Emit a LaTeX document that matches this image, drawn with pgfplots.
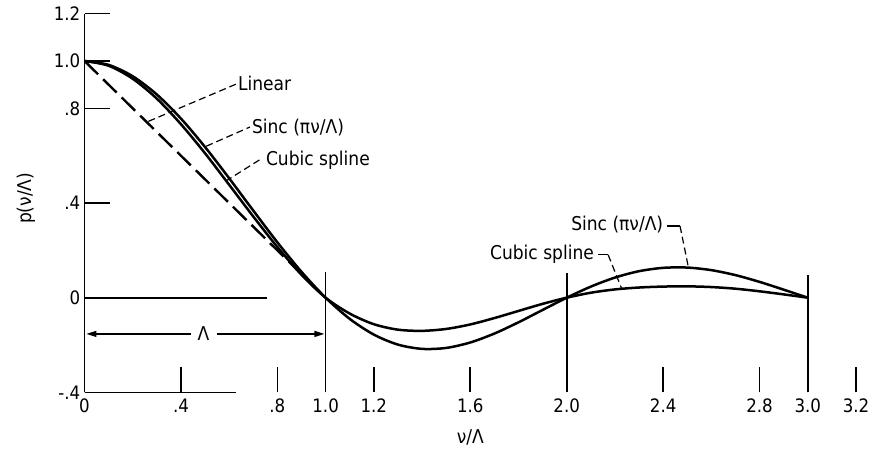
\documentclass[border=0pt]{standalone}
\usepackage{pgfplots}
\pgfplotsset{compat=1.18}
\usepackage{fontspec}
\setmainfont{DejaVu Sans Condensed}
\usetikzlibrary{arrows.meta}

\pgfplotstableread{
x y
0.0 1.0000
0.1 0.9836
0.2 0.9355
0.3 0.8584
0.4 0.7568
0.5 0.6366
0.6 0.5046
0.7 0.3679
0.8 0.2339
0.9 0.1093
1.0 0.0000
1.1 -0.0894
1.2 -0.1559
1.3 -0.1981
1.4 -0.2162
1.5 -0.2122
1.6 -0.1892
1.7 -0.1515
1.8 -0.1039
1.9 -0.0518
2.0 0.0000
2.1 0.0468
2.2 0.0850
2.3 0.1120
2.4 0.1261
2.5 0.1273
2.6 0.1164
2.7 0.0954
2.8 0.0668
2.9 0.0339
3.0 0.0000
}\sinctab

\pgfplotstableread{
x y
0.0 1.000
0.1 0.980
0.2 0.925
0.3 0.841
0.4 0.733
0.5 0.610
0.6 0.477
0.7 0.343
0.8 0.214
0.9 0.097
1.0 0.000
1.1 -0.067
1.2 -0.112
1.3 -0.135
1.4 -0.140
1.5 -0.132
1.6 -0.113
1.7 -0.086
1.8 -0.056
1.9 -0.026
2.0 0.000
2.1 0.021
2.2 0.035
2.3 0.043
2.4 0.047
2.5 0.048
2.6 0.045
2.7 0.038
2.8 0.027
2.9 0.014
3.0 0.000
}\splinetab

\begin{document}
\begin{tikzpicture}
\begin{axis}[
  x=241.1pt, y=236.7pt,
  xmin=0, xmax=3.2, ymin=-0.4, ymax=1.2,
  axis lines*=left,
  x axis line style={draw=none},
  y axis line style={line width=1.6pt},
  clip=false,
  tick align=inside,
  major tick length=25pt,
  every tick/.style={black, line width=1.6pt},
  xtick={0,0.4,0.8,1.0,1.2,1.6,2.0,2.4,2.8,3.0,3.2},
  xticklabels={0,.4,.8,1.0,1.2,1.6,2.0,2.4,2.8,3.0,3.2},
  ytick={-0.4,0,0.4,0.8,1.0,1.2},
  yticklabels={-.4,0,.4,.8,1.0,1.2},
  tick label style={font=\fontsize{18.5}{20}\selectfont},
  yticklabel style={inner sep=4pt},
  xticklabel style={inner sep=6pt},
  xlabel={ν/Λ},
  ylabel={p(ν/Λ)},
  every axis x label/.style={at={(axis cs:1.6,-0.59)}, anchor=center, font=\fontsize{19}{21}\selectfont},
  every axis y label/.style={at={(axis cs:-0.243,0.42)}, anchor=center, rotate=90, font=\fontsize{19}{21}\selectfont},
]
% reference lines
\draw[line width=1.6pt] (axis cs:0,0) -- (axis cs:0.758,0);
\draw[line width=1.6pt] (axis cs:0,-0.4) -- (axis cs:0.63,-0.4);
\draw[line width=1.6pt] (axis cs:1,-0.4) -- (axis cs:1,0.108);
\draw[line width=1.6pt] (axis cs:2,-0.4) -- (axis cs:2,0.103);
\draw[line width=1.6pt] (axis cs:3,-0.4) -- (axis cs:3,0.098);

% curves
\addplot[line width=2.5pt, smooth, black] table[x=x,y=y] {\sinctab};
\addplot[line width=2.5pt, smooth, black] table[x=x,y=y] {\splinetab};
\addplot[line width=2.4pt, black, dash pattern=on 19pt off 7pt] coordinates {(0,1) (1,0)};

% Lambda arrow
\draw[line width=1.2pt, -{Triangle[length=10pt,width=6pt]}] (axis cs:0.440,-0.153) -- (axis cs:0.008,-0.153);
\draw[line width=1.2pt, -{Triangle[length=10pt,width=6pt]}] (axis cs:0.550,-0.153) -- (axis cs:0.995,-0.153);
\node[font=\fontsize{19}{21}\selectfont] at (axis cs:0.493,-0.153) {Λ};

% leaders, left
\draw[line width=1.2pt, dash pattern=on 7pt off 4pt] (axis cs:0.265,0.745) -- (axis cs:0.628,0.902);
\node[anchor=west, inner sep=1pt, font=\fontsize{19}{21}\selectfont] at (axis cs:0.632,0.906) {Linear};
\draw[line width=1.2pt, dash pattern=on 7pt off 4pt] (axis cs:0.505,0.640) -- (axis cs:0.686,0.721);
\node[anchor=west, inner sep=1pt, font=\fontsize{19}{21}\selectfont] at (axis cs:0.690,0.717) {Sinc (πν/Λ)};
\draw[line width=1.2pt, dash pattern=on 7pt off 4pt] (axis cs:0.585,0.492) -- (axis cs:0.738,0.590);
\node[anchor=west, inner sep=1pt, font=\fontsize{19}{21}\selectfont] at (axis cs:0.748,0.582) {Cubic spline};

% leaders, right
\node[anchor=east, inner sep=1pt, font=\fontsize{19}{21}\selectfont] at (axis cs:2.118,0.184) {Cubic spline};
\draw[line width=1.2pt] (axis cs:2.130,0.181) -- (axis cs:2.172,0.181);
\draw[line width=1.2pt, dash pattern=on 7pt off 4pt] (axis cs:2.172,0.181) -- (axis cs:2.228,0.038);
\node[anchor=east, inner sep=1pt, font=\fontsize{19}{21}\selectfont] at (axis cs:2.405,0.307) {Sinc (πν/Λ)};
\draw[line width=1.2pt] (axis cs:2.415,0.303) -- (axis cs:2.470,0.303);
\draw[line width=1.2pt, dash pattern=on 7pt off 4pt] (axis cs:2.470,0.303) -- (axis cs:2.504,0.132);

% page frame
\path (axis cs:-0.3505,1.2577) rectangle (axis cs:3.287,-0.6223);
\end{axis}
\end{tikzpicture}
\end{document}
